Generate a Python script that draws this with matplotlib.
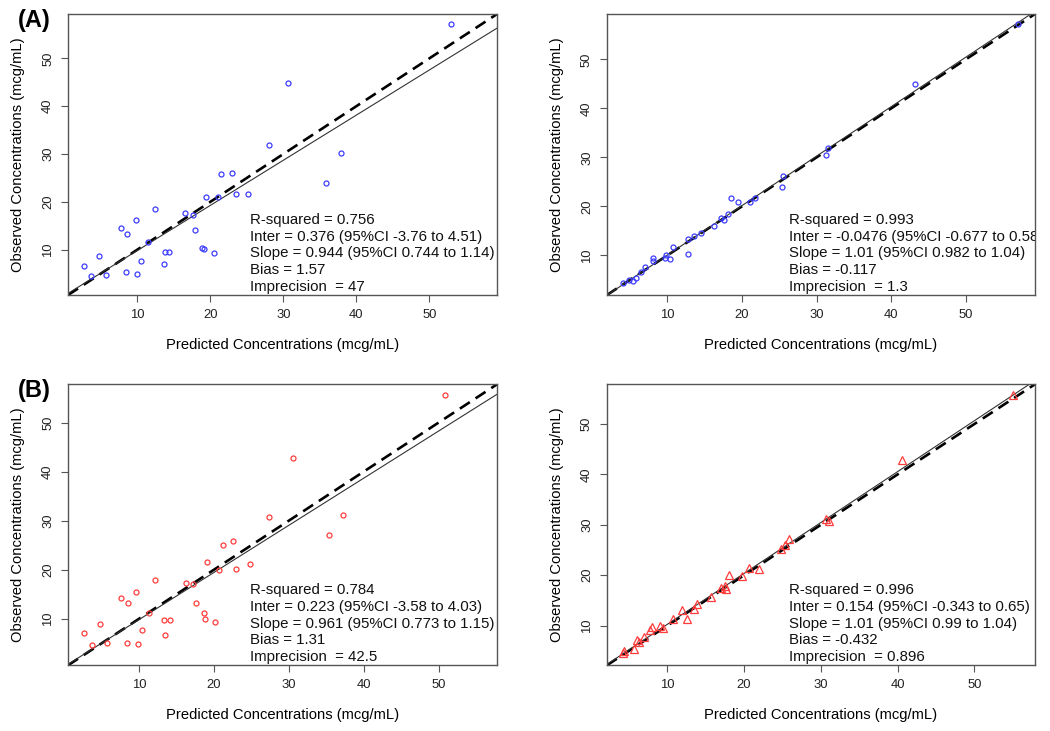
import numpy as np
import matplotlib.pyplot as plt

plt.rcParams['font.family'] = ['Liberation Sans', 'DejaVu Sans']

# (A) left: predicted vs observed
a1_pred = [52.9, 30.6, 28.0, 37.9, 35.9, 21.45, 22.96, 19.4, 21.1, 23.5, 25.2, 12.4,
           16.55, 17.6, 9.8, 7.75, 8.6, 17.9, 11.5, 13.75, 14.3, 18.8, 19.1, 20.5,
           10.55, 13.7, 8.5, 10.0, 4.8, 2.67, 3.7, 5.65]
a1_obs = [57.1, 44.9, 31.9, 30.3, 24.0, 25.8, 26.1, 20.9, 20.9, 21.7, 21.7, 18.5,
          17.6, 17.3, 16.1, 14.55, 13.3, 14.0, 11.5, 9.4, 9.4, 10.35, 10.1, 9.3,
          7.6, 7.0, 5.4, 4.9, 8.7, 6.6, 4.5, 4.75]

# (A) right
a2_pred = [57.0, 43.2, 31.5, 31.3, 25.55, 25.4, 18.5, 19.5, 21.0, 21.8, 18.1, 17.15,
           17.6, 16.25, 14.5, 13.5, 12.7, 12.8, 10.7, 9.8, 9.6, 10.35, 8.1, 8.1,
           7.05, 6.4, 5.75, 5.35, 4.8, 4.0]
a2_obs = [57.15, 44.9, 31.9, 30.4, 26.1, 24.0, 21.65, 20.9, 20.9, 21.65, 18.5, 17.55,
          17.2, 16.0, 14.6, 14.0, 13.4, 10.3, 11.6, 10.1, 9.4, 9.25, 9.45, 8.8,
          7.5, 6.6, 5.4, 4.7, 4.9, 4.4]

# (B) left
b1_pred = [50.9, 30.56, 27.4, 37.2, 35.3, 21.2, 22.56, 19.1, 20.7, 22.96, 24.75, 12.1,
           16.3, 17.15, 9.6, 7.5, 8.5, 17.55, 11.3, 18.6, 18.8, 20.15, 13.35, 14.1,
           10.35, 13.5, 8.35, 9.8, 4.7, 2.6, 3.7, 5.65]
b1_obs = [55.7, 42.75, 30.65, 31.2, 27.1, 25.0, 25.8, 21.5, 19.85, 20.05, 21.2, 17.9,
          17.3, 17.1, 15.4, 14.2, 13.1, 13.2, 11.2, 11.1, 9.9, 9.3, 9.65, 9.65,
          7.75, 6.7, 5.1, 4.8, 9.0, 7.1, 4.6, 5.1]

# (B) right
b2_pred = [55.0, 40.6, 30.7, 31.05, 25.8, 25.3, 24.85, 18.0, 19.7, 20.7, 21.9, 17.5,
           17.0, 17.7, 15.65, 13.9, 13.5, 11.9, 12.6, 10.7, 9.5, 9.1, 8.0, 7.8,
           6.96, 6.05, 6.3, 5.6, 4.35, 4.2]
b2_obs = [55.8, 42.9, 31.2, 30.8, 27.2, 26.0, 25.2, 20.1, 19.9, 21.5, 21.3, 17.9,
          17.5, 17.2, 15.6, 14.3, 13.3, 13.1, 11.3, 11.3, 9.6, 10.0, 9.7, 9.1,
          7.8, 7.15, 6.75, 5.3, 4.9, 4.56]

# regression fits (intercept, slope) and the stats text
fits = [(0.376, 0.944), (-0.0476, 1.01), (0.223, 0.961), (0.154, 1.01)]
stats = [
    ["R-squared = 0.756", "Inter = 0.376 (95%CI -3.76 to 4.51)",
     "Slope = 0.944 (95%CI 0.744 to 1.14)", "Bias = 1.57", "Imprecision  = 47"],
    ["R-squared = 0.993", "Inter = -0.0476 (95%CI -0.677 to 0.58)",
     "Slope = 1.01 (95%CI 0.982 to 1.04)", "Bias = -0.117", "Imprecision  = 1.3"],
    ["R-squared = 0.784", "Inter = 0.223 (95%CI -3.58 to 4.03)",
     "Slope = 0.961 (95%CI 0.773 to 1.15)", "Bias = 1.31", "Imprecision  = 42.5"],
    ["R-squared = 0.996", "Inter = 0.154 (95%CI -0.343 to 0.65)",
     "Slope = 1.01 (95%CI 0.99 to 1.04)", "Bias = -0.432", "Imprecision  = 0.896"],
]

BLUE = '#3c3cff'
RED = '#ff3c3c'
text_base = [0.253, 0.193, 0.134, 0.074, 0.014]


def panel(ax, pred, obs, fit, lines, color, marker, ms):
    allv = np.concatenate([pred, obs])
    lo, hi = allv.min(), allv.max()
    ext = 0.04 * (hi - lo)
    ax.set_xlim(lo - ext, hi + ext)
    ax.set_ylim(lo - ext, hi + ext)

    ax.plot(pred, obs, linestyle='none', marker=marker, ms=ms, mfc='none',
            mec=color, mew=0.9, zorder=3)
    ax.axline((0, 0), slope=1, color='black', lw=1.9, dashes=(4.5, 2.6), zorder=2)
    ax.axline((0, fit[0]), slope=fit[1], color='#333333', lw=0.8, zorder=2)

    # stats lines, clipped at the box like R does
    for s, yb in zip(lines, text_base):
        ax.text(0.425, yb, s, transform=ax.transAxes, fontsize=10.8,
                va='baseline', ha='left', clip_on=True, color='#111111')

    ax.set_xticks([10, 20, 30, 40, 50])
    ax.set_yticks([10, 20, 30, 40, 50])
    ax.tick_params(direction='out', length=5, width=0.8, color='#555555',
                   labelsize=9.4, pad=5, labelcolor='#222222')
    for lab in ax.get_yticklabels():
        lab.set_rotation(90)
        lab.set_va('center')
    for sp in ax.spines.values():
        sp.set_color('#555555')
        sp.set_linewidth(1.0)
    ax.set_xlabel("Predicted Concentrations (mcg/mL)", fontsize=10.6, labelpad=12)
    ax.set_ylabel("Observed Concentrations (mcg/mL)", fontsize=10.6, labelpad=12)


fig = plt.figure(figsize=(10.5, 7.31), dpi=100)
ax1 = fig.add_axes([0.0648, 0.5964, 0.4086, 0.3844])
ax2 = fig.add_axes([0.578, 0.5964, 0.4076, 0.3844])
ax3 = fig.add_axes([0.0648, 0.0899, 0.4086, 0.3844])
ax4 = fig.add_axes([0.578, 0.0899, 0.4076, 0.3844])

panel(ax1, np.array(a1_pred), np.array(a1_obs), fits[0], stats[0], BLUE, 'o', 3.6)
panel(ax2, np.array(a2_pred), np.array(a2_obs), fits[1], stats[1], BLUE, 'o', 3.6)
panel(ax3, np.array(b1_pred), np.array(b1_obs), fits[2], stats[2], RED, 'o', 3.6)
panel(ax4, np.array(b2_pred), np.array(b2_obs), fits[3], stats[3], RED, '^', 5.5)

fig.text(0.017, 0.972, "(A)", fontsize=17, fontweight='bold', va='center', ha='left')
fig.text(0.017, 0.466, "(B)", fontsize=17, fontweight='bold', va='center', ha='left')

fig.savefig("out.png", dpi=100)
